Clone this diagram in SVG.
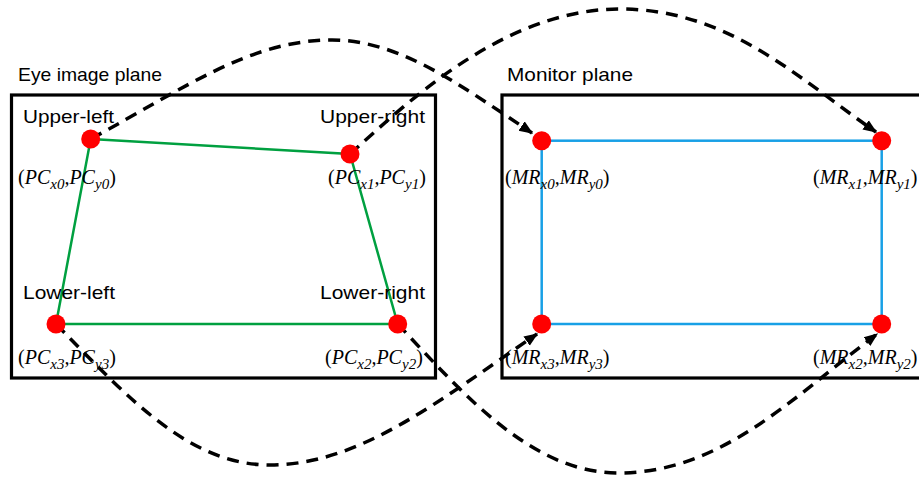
<svg xmlns="http://www.w3.org/2000/svg" width="919" height="480" viewBox="0 0 919 480">
<style>
.box{fill:none;stroke:#000;stroke-width:3.2}
.lbl{font-family:"Liberation Sans",Arial,sans-serif;font-size:19px;fill:#000}
.crd{font-family:"Liberation Serif","Times New Roman",serif;font-style:italic;font-size:20px;fill:#000}
.sub{font-size:15px}
.par{font-style:normal}
.dot{fill:#ff0000}
.conn{fill:none;stroke:#000;stroke-width:3.5;stroke-dasharray:12 8;marker-end:url(#arr)}
</style>
<defs>
<marker id="arr" viewBox="0 0 10 10" refX="9" refY="5" markerWidth="14" markerHeight="14" markerUnits="userSpaceOnUse" orient="auto">
<path d="M0,1 L10,5 L0,9 z" fill="#000"/>
</marker>
</defs>
<rect width="919" height="480" fill="#fff"/>

<g id="eye-plane">
<rect class="box" x="11.5" y="95" width="424" height="283"/>
<text class="lbl" x="18" y="81" textLength="144" lengthAdjust="spacingAndGlyphs">Eye image plane</text>
<polygon points="90.7,139 350,154 397.7,324 56,324" fill="none" stroke="#00a040" stroke-width="2.5"/>
</g>

<g id="monitor-plane">
<rect class="box" x="502" y="95" width="440" height="283"/>
<text class="lbl" x="507" y="81" textLength="126" lengthAdjust="spacingAndGlyphs">Monitor plane</text>
<rect x="541.7" y="140.7" width="340" height="183.3" fill="none" stroke="#18a0e6" stroke-width="2.5"/>
</g>

<g id="connectors">
<path class="conn" d="M90.7,139 C185,88 250,40 332,40 C400,40 460,85 532,133"/>
<path class="conn" d="M350,154 C400,110 500,9 620,9 C730,9 800,80 876,132"/>
<path class="conn" d="M56,324 C130,400 190,465 270,465 C360,465 440,400 537,334"/>
<path class="conn" d="M397.7,324 C460,390 530,473 618,473 C720,473 790,400 877,334"/>
</g>

<g id="upper-left">
<circle class="dot" cx="90.7" cy="139" r="9.5"/>
<text class="lbl" x="23" y="123" textLength="91" lengthAdjust="spacingAndGlyphs">Upper-left</text>
<text class="crd" x="18" y="184"><tspan class="par">(</tspan>PC<tspan class="sub" dy="5">x0</tspan><tspan dy="-5">,PC</tspan><tspan class="sub" dy="5">y0</tspan><tspan class="par" dy="-5">)</tspan></text>
</g>

<g id="upper-right">
<circle class="dot" cx="350" cy="154" r="9.5"/>
<text class="lbl" x="320" y="123" textLength="105" lengthAdjust="spacingAndGlyphs">Upper-right</text>
<text class="crd" x="328" y="184"><tspan class="par">(</tspan>PC<tspan class="sub" dy="5">x1</tspan><tspan dy="-5">,PC</tspan><tspan class="sub" dy="5">y1</tspan><tspan class="par" dy="-5">)</tspan></text>
</g>

<g id="lower-left">
<circle class="dot" cx="56" cy="324" r="9.5"/>
<text class="lbl" x="23" y="299" textLength="92" lengthAdjust="spacingAndGlyphs">Lower-left</text>
<text class="crd" x="18" y="364"><tspan class="par">(</tspan>PC<tspan class="sub" dy="5">x3</tspan><tspan dy="-5">,PC</tspan><tspan class="sub" dy="5">y3</tspan><tspan class="par" dy="-5">)</tspan></text>
</g>

<g id="lower-right">
<circle class="dot" cx="397.7" cy="324" r="9.5"/>
<text class="lbl" x="320" y="299" textLength="105" lengthAdjust="spacingAndGlyphs">Lower-right</text>
<text class="crd" x="325" y="364"><tspan class="par">(</tspan>PC<tspan class="sub" dy="5">x2</tspan><tspan dy="-5">,PC</tspan><tspan class="sub" dy="5">y2</tspan><tspan class="par" dy="-5">)</tspan></text>
</g>

<g id="mr0">
<circle class="dot" cx="541.7" cy="140.7" r="9.5"/>
<text class="crd" x="505" y="184"><tspan class="par">(</tspan>MR<tspan class="sub" dy="5">x0</tspan><tspan dy="-5">,MR</tspan><tspan class="sub" dy="5">y0</tspan><tspan class="par" dy="-5">)</tspan></text>
</g>

<g id="mr1">
<circle class="dot" cx="881.7" cy="140.7" r="9.5"/>
<text class="crd" x="813" y="184"><tspan class="par">(</tspan>MR<tspan class="sub" dy="5">x1</tspan><tspan dy="-5">,MR</tspan><tspan class="sub" dy="5">y1</tspan><tspan class="par" dy="-5">)</tspan></text>
</g>

<g id="mr3">
<circle class="dot" cx="541.7" cy="324" r="9.5"/>
<text class="crd" x="505" y="364"><tspan class="par">(</tspan>MR<tspan class="sub" dy="5">x3</tspan><tspan dy="-5">,MR</tspan><tspan class="sub" dy="5">y3</tspan><tspan class="par" dy="-5">)</tspan></text>
</g>

<g id="mr2">
<circle class="dot" cx="881.7" cy="324" r="9.5"/>
<text class="crd" x="813" y="364"><tspan class="par">(</tspan>MR<tspan class="sub" dy="5">x2</tspan><tspan dy="-5">,MR</tspan><tspan class="sub" dy="5">y2</tspan><tspan class="par" dy="-5">)</tspan></text>
</g>
</svg>
